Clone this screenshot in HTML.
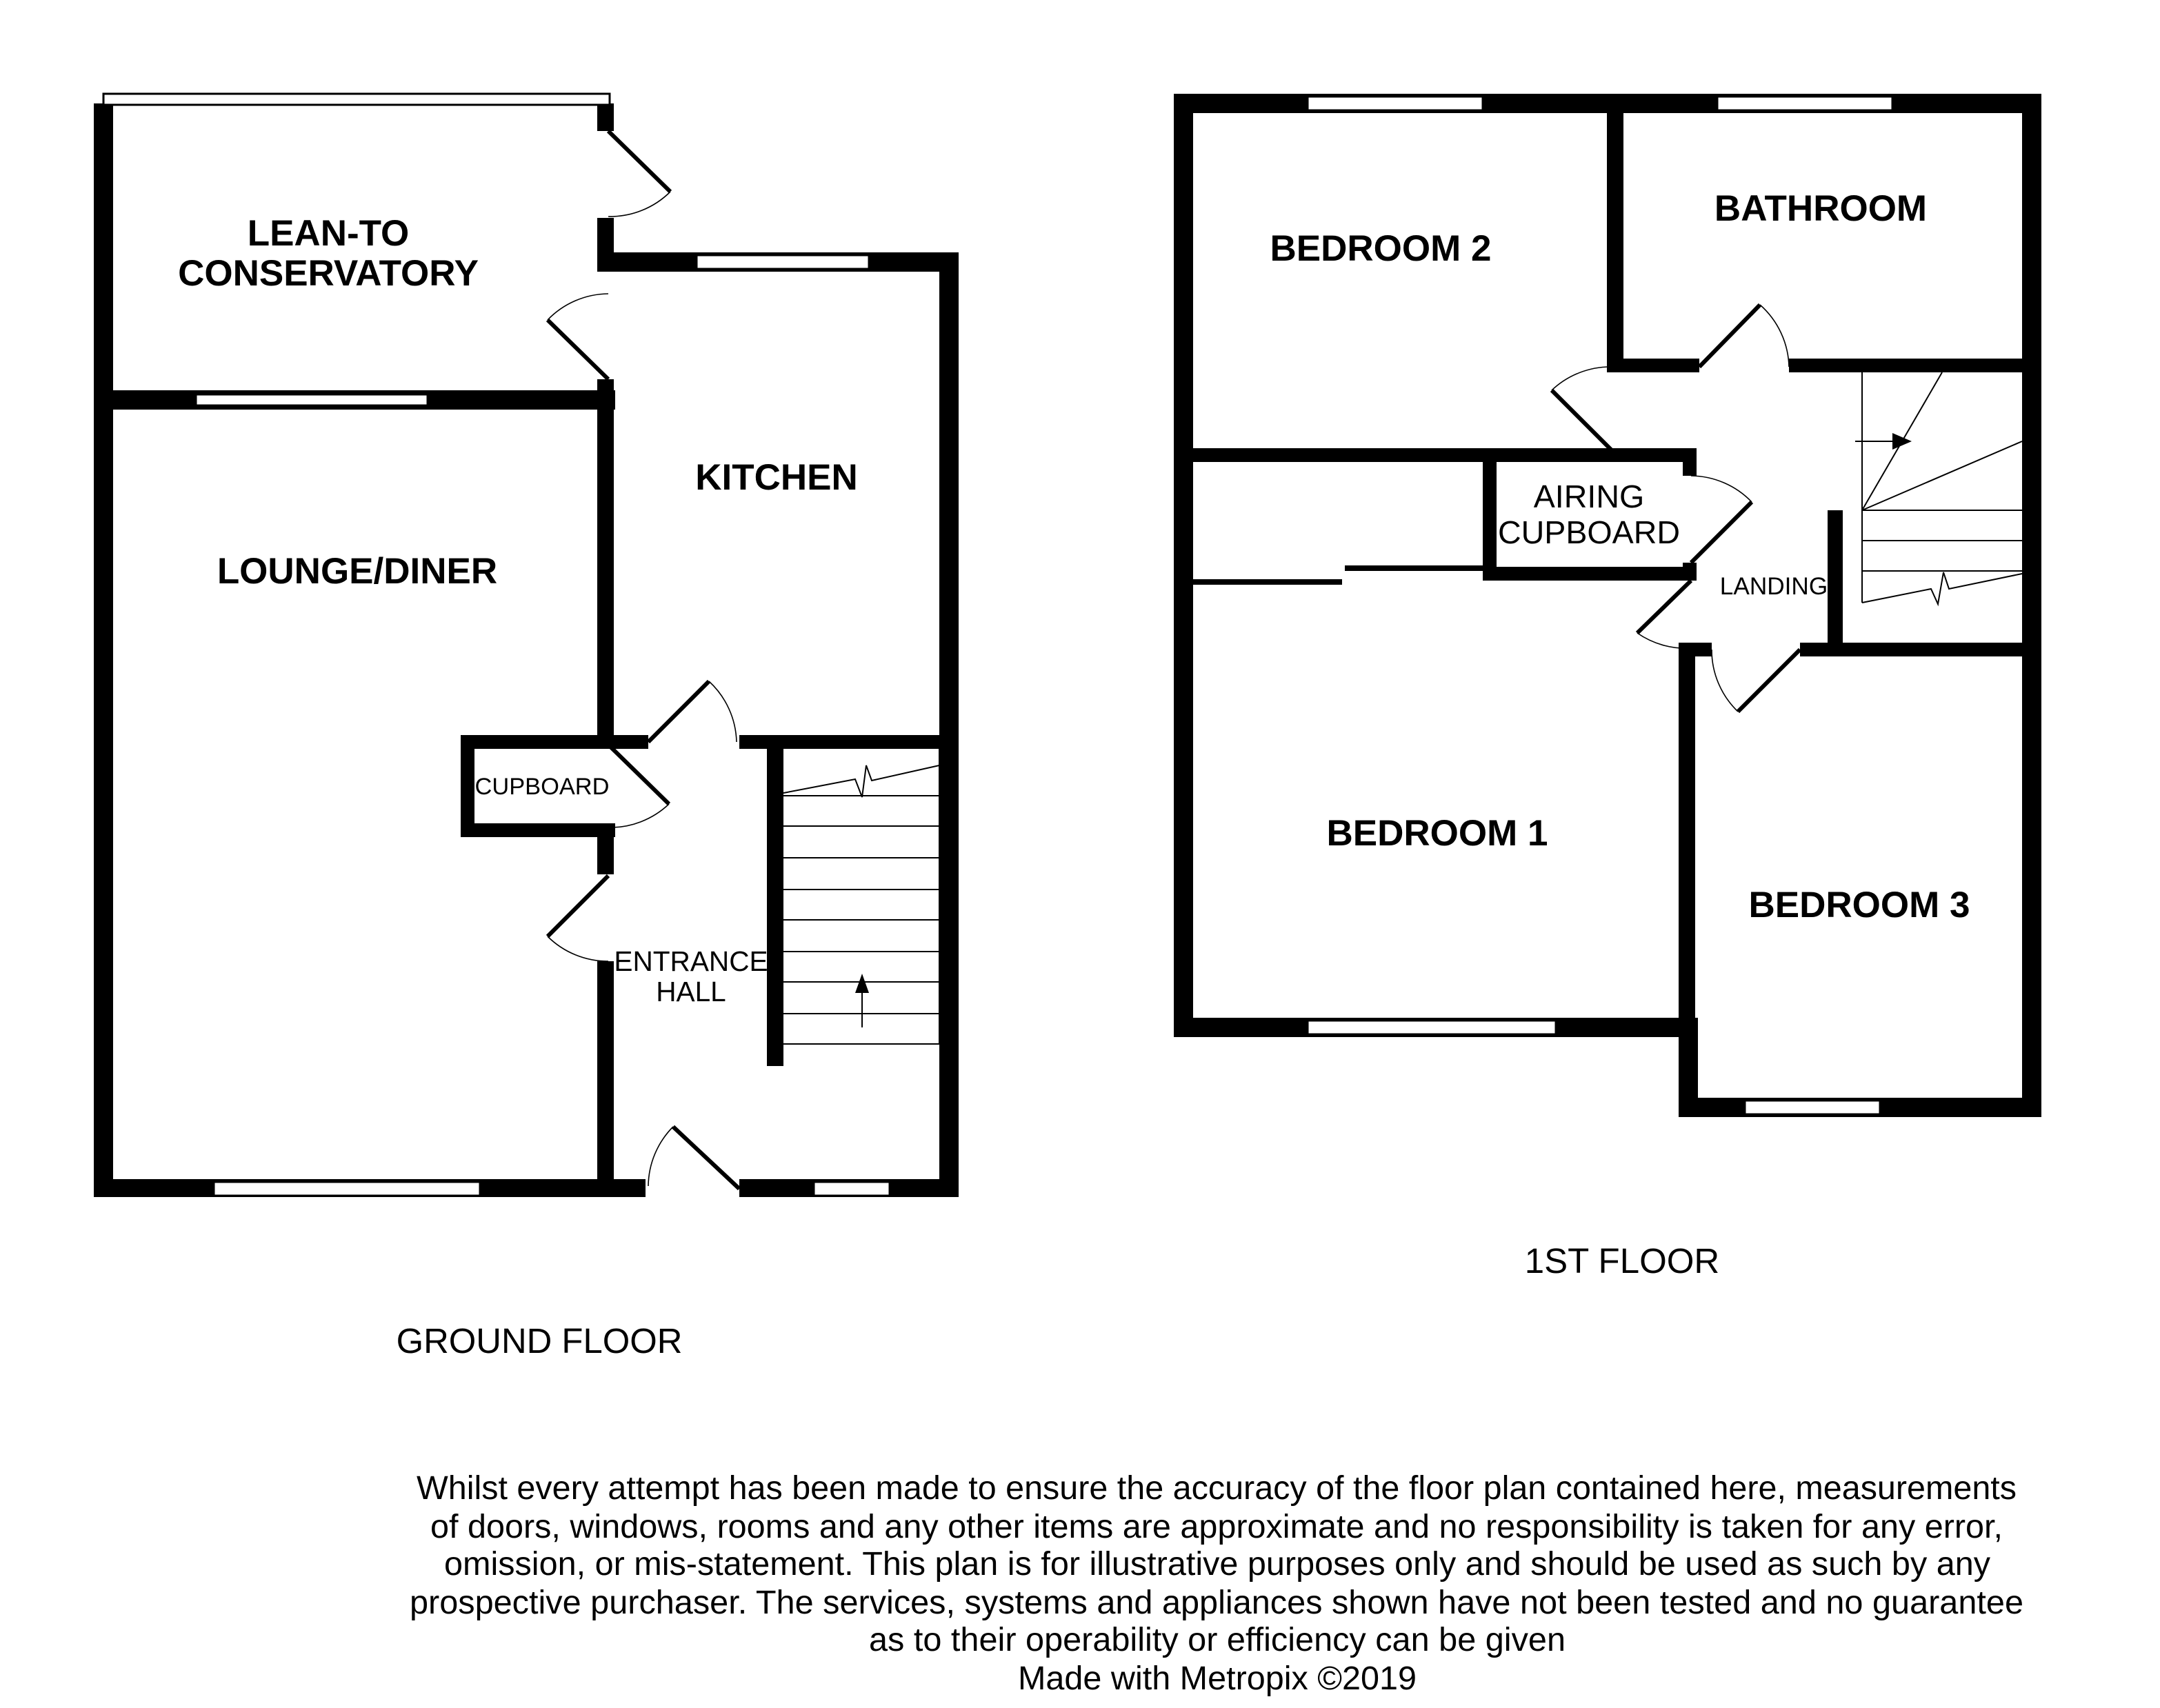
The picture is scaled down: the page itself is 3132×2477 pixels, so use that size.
<!DOCTYPE html>
<html><head><meta charset="utf-8"><style>
html,body{margin:0;padding:0;background:#fff;}
svg{display:block;}
text{font-family:"Liberation Sans",sans-serif;fill:#000;}
.b{font-weight:bold;font-size:26.5px;}
.s{font-size:18px;}
.d{font-size:24px;}
</style></head><body>
<svg width="3132" height="2477" viewBox="0 0 1566 1238.5" xmlns="http://www.w3.org/2000/svg">
<rect width="1566" height="1238.5" fill="#fff"/>
<g fill="#000">
<rect x="68" y="75" width="14" height="793"/>
<rect x="68" y="855" width="400" height="13"/>
<rect x="536" y="855" width="159" height="13"/>
<rect x="681" y="183" width="14" height="685"/>
<rect x="434" y="183" width="261" height="14"/>
<rect x="68" y="283" width="378" height="14"/>
<rect x="433" y="75" width="12" height="20"/>
<rect x="433" y="158" width="12" height="39"/>
<rect x="433" y="275" width="12" height="265"/>
<rect x="433" y="598" width="12" height="36"/>
<rect x="433" y="697" width="12" height="171"/>
<rect x="334" y="533" width="112" height="10"/>
<rect x="334" y="597" width="112" height="10"/>
<rect x="334" y="533" width="10" height="74"/>
<rect x="434" y="533" width="36" height="10"/>
<rect x="536" y="533" width="159" height="10"/>
<rect x="556" y="540" width="12" height="233"/>
<rect x="851" y="68" width="14" height="684"/>
<rect x="851" y="68" width="629" height="14"/>
<rect x="1466" y="68" width="14" height="742"/>
<rect x="851" y="738" width="379" height="14"/>
<rect x="1217" y="738" width="14" height="72"/>
<rect x="1217" y="796" width="263" height="14"/>
<rect x="1165" y="82" width="12" height="188"/>
<rect x="1165" y="260" width="67" height="10"/>
<rect x="1297" y="260" width="169" height="10"/>
<rect x="865" y="325" width="365" height="10"/>
<rect x="1075" y="325" width="10" height="96"/>
<rect x="1075" y="411" width="155" height="10"/>
<rect x="1220" y="325" width="10" height="20"/>
<rect x="1220" y="408" width="10" height="13"/>
<rect x="1217" y="466" width="12" height="279"/>
<rect x="1217" y="466" width="24" height="10"/>
<rect x="1305" y="466" width="161" height="10"/>
<rect x="1325" y="370" width="11" height="96"/>
<rect x="865" y="420" width="108" height="4"/>
<rect x="975" y="410" width="100" height="4"/>
</g>
<g fill="#fff" stroke="#000" stroke-width="1.5">
<rect x="75" y="68" width="367" height="8"/>
<rect x="505" y="185" width="125" height="10"/>
<rect x="142" y="286" width="168" height="8"/>
<rect x="155" y="857" width="193" height="10"/>
<rect x="590" y="857" width="55" height="10"/>
<rect x="948" y="70" width="127" height="10"/>
<rect x="1245" y="70" width="127" height="10"/>
<rect x="948" y="740" width="180" height="10"/>
<rect x="1265" y="798" width="98" height="10"/>
</g>
<g stroke="#000" fill="none">
<line x1="441" y1="95" x2="486" y2="139" stroke-width="3"/>
<path d="M486 139 A62 62 0 0 1 441 157" stroke-width="0.8"/>
<line x1="441" y1="275" x2="397" y2="232" stroke-width="3"/>
<path d="M397 232 A62 62 0 0 1 441 213" stroke-width="0.8"/>
<line x1="470" y1="538" x2="514" y2="494" stroke-width="3"/>
<path d="M514 494 A62 62 0 0 1 534 538" stroke-width="0.8"/>
<line x1="441" y1="540" x2="485" y2="583" stroke-width="3"/>
<path d="M485 583 A62 62 0 0 1 441 600" stroke-width="0.8"/>
<line x1="441" y1="635" x2="397" y2="679" stroke-width="3"/>
<path d="M397 679 A62 62 0 0 0 441 697" stroke-width="0.8"/>
<line x1="488" y1="817" x2="536" y2="862" stroke-width="3"/>
<path d="M488 817 A62 62 0 0 0 470 860" stroke-width="0.8"/>
<line x1="1232" y1="266" x2="1276" y2="221" stroke-width="3"/>
<path d="M1276 221 A62 62 0 0 1 1297 266" stroke-width="0.8"/>
<line x1="1168" y1="326" x2="1125" y2="283" stroke-width="3"/>
<path d="M1125 283 A62 62 0 0 1 1168 266" stroke-width="0.8"/>
<line x1="1226" y1="408" x2="1270" y2="364" stroke-width="3"/>
<path d="M1270 364 A62 62 0 0 0 1226 345" stroke-width="0.8"/>
<line x1="1226" y1="421" x2="1187" y2="459" stroke-width="3"/>
<path d="M1187 459 A62 62 0 0 0 1226 470" stroke-width="0.8"/>
<line x1="1305" y1="471" x2="1260" y2="516" stroke-width="3"/>
<path d="M1260 516 A62 62 0 0 1 1241 471" stroke-width="0.8"/>
</g>
<g stroke="#000" stroke-width="1" fill="none">
<line x1="681" y1="543" x2="681" y2="757"/>
<line x1="568" y1="577" x2="681" y2="577"/>
<line x1="568" y1="599" x2="681" y2="599"/>
<line x1="568" y1="622" x2="681" y2="622"/>
<line x1="568" y1="645" x2="681" y2="645"/>
<line x1="568" y1="667" x2="681" y2="667"/>
<line x1="568" y1="690" x2="681" y2="690"/>
<line x1="568" y1="712" x2="681" y2="712"/>
<line x1="568" y1="735" x2="681" y2="735"/>
<line x1="568" y1="757" x2="681" y2="757"/>
<path d="M568 575 L620 565 L625 578 L628 555 L632 566 L681 555"/>
<line x1="625" y1="745" x2="625" y2="712"/>
<line x1="1350" y1="270" x2="1350" y2="437"/>
<line x1="1350" y1="370" x2="1466" y2="370"/>
<line x1="1350" y1="392" x2="1466" y2="392"/>
<line x1="1350" y1="414" x2="1466" y2="414"/>
<line x1="1350" y1="370" x2="1466" y2="320"/>
<line x1="1350" y1="370" x2="1408" y2="270"/>
<path d="M1350 437 L1400 427 L1405 438 L1409 415 L1413 427 L1466 416"/>
<line x1="1345" y1="320" x2="1380" y2="320"/>
</g>
<polygon points="625,706 620,720 630,720" fill="#000"/>
<polygon points="1386,320 1372,314 1372,326" fill="#000"/>
<text class="b" x="238" y="178" text-anchor="middle">LEAN-TO</text>
<text class="b" x="238" y="207" text-anchor="middle">CONSERVATORY</text>
<text class="b" x="563" y="355" text-anchor="middle">KITCHEN</text>
<text class="b" x="259" y="423" text-anchor="middle">LOUNGE/DINER</text>
<text x="393" y="576" text-anchor="middle" style="font-size:17.2px">CUPBOARD</text>
<text x="501" y="704" text-anchor="middle" style="font-size:20.3px">ENTRANCE</text>
<text x="501" y="726" text-anchor="middle" style="font-size:20.3px">HALL</text>
<text class="b" x="1001" y="189" text-anchor="middle">BEDROOM 2</text>
<text class="b" x="1320" y="160" text-anchor="middle">BATHROOM</text>
<text x="1152" y="368" text-anchor="middle" style="font-size:23.3px">AIRING</text>
<text x="1152" y="394" text-anchor="middle" style="font-size:23.3px">CUPBOARD</text>
<text x="1286" y="431" text-anchor="middle" style="font-size:17.6px">LANDING</text>
<text class="b" x="1042" y="613" text-anchor="middle">BEDROOM 1</text>
<text class="b" x="1348" y="665" text-anchor="middle">BEDROOM 3</text>
<text x="1176" y="923" text-anchor="middle" style="font-size:25.5px">1ST FLOOR</text>
<text x="391" y="981" text-anchor="middle" style="font-size:25.4px">GROUND FLOOR</text>
<g lengthAdjust="spacingAndGlyphs">
<text class="d" x="302" y="1087" textLength="1160" lengthAdjust="spacingAndGlyphs">Whilst every attempt has been made to ensure the accuracy of the floor plan contained here, measurements</text>
<text class="d" x="312" y="1115" textLength="1140" lengthAdjust="spacingAndGlyphs">of doors, windows, rooms and any other items are approximate and no responsibility is taken for any error,</text>
<text class="d" x="322" y="1142" textLength="1121" lengthAdjust="spacingAndGlyphs">omission, or mis-statement. This plan is for illustrative purposes only and should be used as such by any</text>
<text class="d" x="297" y="1170" textLength="1170" lengthAdjust="spacingAndGlyphs">prospective purchaser. The services, systems and appliances shown have not been tested and no guarantee</text>
<text class="d" x="630" y="1197" textLength="505" lengthAdjust="spacingAndGlyphs">as to their operability or efficiency can be given</text>
<text class="d" x="738" y="1225" textLength="289" lengthAdjust="spacingAndGlyphs">Made with Metropix ©2019</text>
</g>
</svg>
</body></html>
